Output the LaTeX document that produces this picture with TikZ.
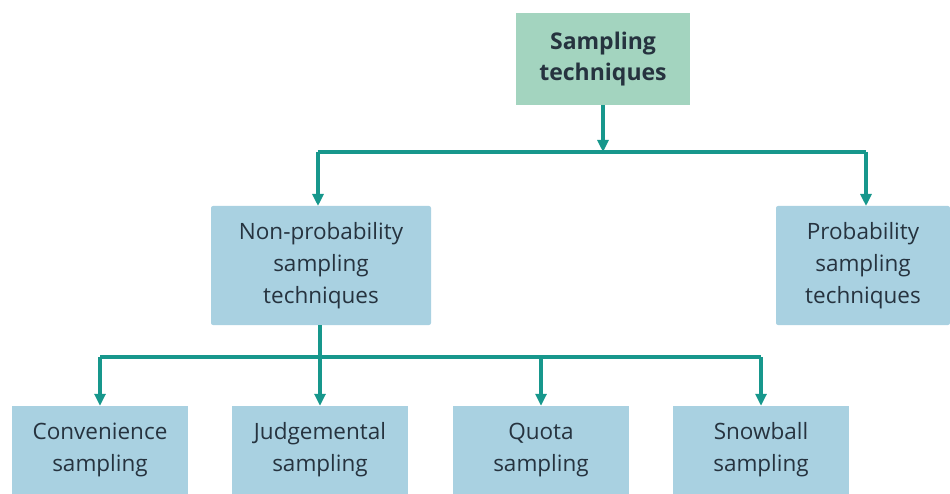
\documentclass[tikz,border=0pt]{standalone}
\usepackage{fontspec}
\setmainfont{Open Sans}
\usetikzlibrary{arrows.meta}
\definecolor{topfill}{HTML}{A3D4BF}
\definecolor{boxfill}{HTML}{A9D1E1}
\definecolor{txt}{HTML}{26333F}
\definecolor{teal}{HTML}{17978C}
\begin{document}
\begin{tikzpicture}[x=1pt,y=-1pt,
  box/.style={fill=boxfill, draw=none, rounded corners=2pt, align=center, text=txt,
    font=\fontsize{22.5}{32}\selectfont, inner sep=0pt},
  topbox/.style={box, fill=topfill, rounded corners=0pt, font=\fontsize{23}{31}\selectfont\bfseries},
  conn/.style={draw=teal, line width=3.3pt},
  arr/.style={conn, -{Triangle[length=12pt,width=11pt]}}]
\useasboundingbox (0,0) rectangle (950,494);
\clip (0,0) rectangle (950,494);
% nodes
\node[topbox, minimum width=174pt, minimum height=92pt] (top) at (603,59) {Sampling\\techniques};
\node[box, minimum width=220pt, minimum height=119pt] (nonp) at (321,265.5) {Non-probability\\sampling\\techniques};
\node[box, minimum width=174pt, minimum height=119pt] (prob) at (863,265.5) {Probability\\sampling\\techniques};
\node[box, rounded corners=0pt, minimum width=176pt, minimum height=88pt] (conv) at (100,450) {Convenience\\sampling};
\node[box, rounded corners=0pt, minimum width=176pt, minimum height=88pt] (judg) at (320,450) {Judgemental\\sampling};
\node[box, rounded corners=0pt, minimum width=176pt, minimum height=88pt] (quota) at (541,450) {Quota\\sampling};
\node[box, rounded corners=0pt, minimum width=176pt, minimum height=88pt] (snow) at (761,450) {Snowball\\sampling};
% junction coordinates
\coordinate (j1) at (603,152);
\coordinate (j2) at (320,357);
% connectors
\draw[arr] (top.south) -- (j1);
\draw[conn] (318,152) -- (866,152);
\draw[arr] (318,152) -- (318,206);
\draw[arr] (866,152) -- (866,206);
\draw[conn] (nonp.south -| j2) -- (j2);
\draw[conn] (100,357) -- (761,357);
\draw[arr] (100,357) -- (conv.north);
\draw[arr] (j2) -- (judg.north);
\draw[arr] (541,357) -- (quota.north);
\draw[arr] (761,357) -- (snow.north);
\end{tikzpicture}
\end{document}
